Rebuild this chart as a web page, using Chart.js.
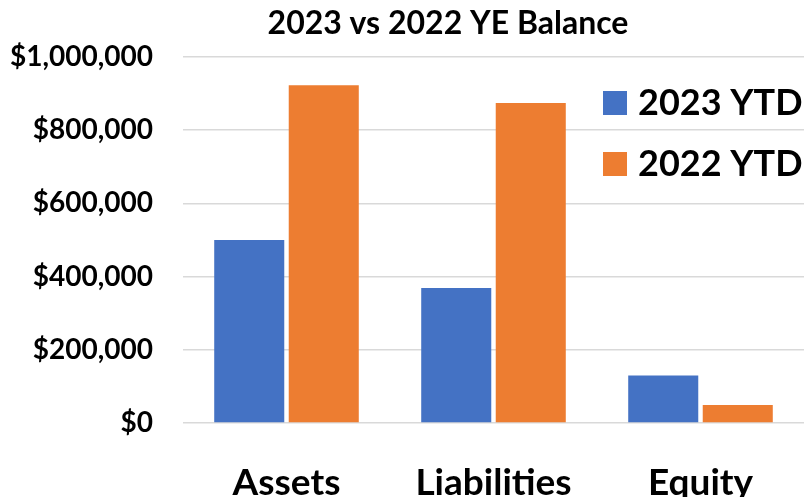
<!DOCTYPE html>
<html>
<head>
<meta charset="utf-8">
<script src="https://cdn.jsdelivr.net/npm/chart.js@4"></script>
<style>
  html, body { margin: 0; padding: 0; background: #fff; }
  #wrap { width: 804px; height: 497px; }
</style>
</head>
<body>
<div id="wrap"><canvas id="balanceChart"></canvas></div>
<script>
const categories = ["Assets", "Liabilities", "Equity"];
const seriesNames = ["2023 YTD", "2022 YTD"];
const values2023 = [500000, 369000, 130000];
const values2022 = [923000, 874000, 49000];
const yTicks = [0, 200000, 400000, 600000, 800000, 1000000];
const chartTitle = "2023 vs 2022 YE Balance";

const FONT = "Lato, 'Open Sans', sans-serif";

// title and legend drawn by hand: the title is off-centre and the legend overlaps the plot
const overlay = {
  id: 'overlay',
  afterDraw: (chart) => {
    const ctx = chart.ctx;
    ctx.save();
    ctx.fillStyle = '#000';
    ctx.textBaseline = 'alphabetic';
    ctx.textAlign = 'center';
    ctx.font = `bold 32px ${FONT}`;
    ctx.fillText(chartTitle, 448, 34);

    ctx.font = `bold 36px ${FONT}`;
    ctx.textAlign = 'left';
    chart.data.datasets.forEach((ds, i) => {
      const top = 91 + i * 61;
      ctx.fillStyle = ds.backgroundColor;
      ctx.fillRect(603, top, 24, 24);
      ctx.fillStyle = '#000';
      ctx.fillText(ds.label, 638, top + 24);
    });
    ctx.restore();
  }
};

new Chart(document.getElementById("balanceChart"), {
  type: 'bar',
  data: {
    labels: categories,
    datasets: [
      { label: seriesNames[0], data: values2023, backgroundColor: '#4472C4' },
      { label: seriesNames[1], data: values2022, backgroundColor: '#ED7D31' }
    ]
  },
  options: {
    responsive: true,
    maintainAspectRatio: false,
    animation: false,
    layout: { padding: { top: 57, right: 0, left: 0, bottom: 0 } },
    datasets: {
      bar: { categoryPercentage: 0.72, barPercentage: 0.94 }
    },
    plugins: {
      legend: { display: false },
      tooltip: { enabled: false },
      title: { display: false }
    },
    scales: {
      x: {
        grid: { display: false },
        border: { display: false },
        ticks: {
          color: '#000',
          padding: 30,
          font: { family: FONT, size: 37, weight: 'bold' }
        },
        afterFit: (scale) => { scale.height = 74; }
      },
      y: {
        min: 0,
        max: 1000000,
        afterBuildTicks: (scale) => { scale.ticks = yTicks.map(v => ({ value: v })); },
        grid: { color: '#d9d9d9', lineWidth: 1.5, drawTicks: false },
        border: { display: false },
        ticks: {
          color: '#000',
          padding: 30,
          font: { family: FONT, size: 28, weight: 'bold' },
          callback: (v) => '$' + Number(v).toLocaleString('en-US')
        },
        afterFit: (scale) => { scale.width = 183; }
      }
    }
  },
  plugins: [overlay]
});
</script>
</body>
</html>
